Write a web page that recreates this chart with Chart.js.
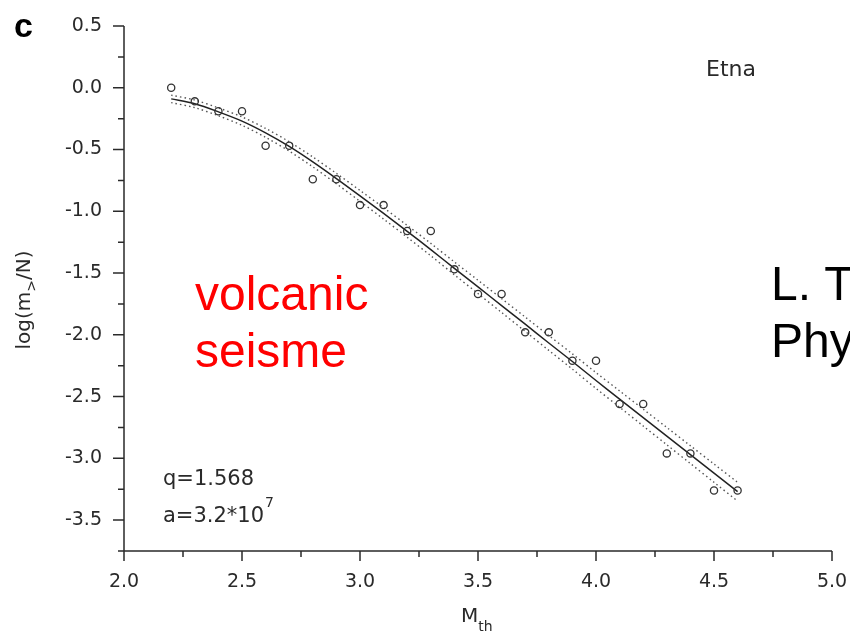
<!DOCTYPE html>
<html>
<head>
<meta charset="utf-8">
<title>Etna</title>
<script src="https://cdn.jsdelivr.net/npm/chart.js@4.4.1/dist/chart.umd.min.js"></script>
<style>
  html, body { margin: 0; padding: 0; background: #fff; }
  #wrap { width: 850px; height: 642px; }
</style>
</head>
<body>
<div id="wrap"><canvas id="chart" width="850" height="642"></canvas></div>
<script>
// threshold magnitudes
const mth = [2.2, 2.3, 2.4, 2.5, 2.6, 2.7, 2.8, 2.9, 3.0, 3.1, 3.2, 3.3, 3.4,
             3.5, 3.6, 3.7, 3.8, 3.9, 4.0, 4.1, 4.2, 4.3, 4.4, 4.5, 4.6];
// observed log(m>/N)
const logObs = [0.0, -0.11, -0.19, -0.19, -0.47, -0.47, -0.74, -0.74, -0.95, -0.95,
                -1.16, -1.16, -1.47, -1.67, -1.67, -1.98, -1.98, -2.21, -2.21,
                -2.56, -2.56, -2.96, -2.96, -3.26, -3.26];
// fitted curve and its dotted band
const logFit = [-0.09, -0.13, -0.195, -0.27, -0.365, -0.475, -0.60, -0.735, -0.875,
                -1.017, -1.162, -1.31, -1.462, -1.612, -1.763, -1.914, -2.066,
                -2.216, -2.37, -2.52, -2.67, -2.82, -2.97, -3.12, -3.27];
const fitUpper = [-0.060, -0.099, -0.163, -0.236, -0.329, -0.437, -0.560, -0.693,
                  -0.831, -0.971, -1.114, -1.260, -1.410, -1.558, -1.707, -1.856,
                  -2.006, -2.154, -2.306, -2.454, -2.602, -2.750, -2.898, -3.046, -3.194];
const fitLower = [-0.120, -0.161, -0.227, -0.304, -0.401, -0.513, -0.640, -0.777,
                  -0.919, -1.063, -1.210, -1.360, -1.514, -1.666, -1.819, -1.972,
                  -2.126, -2.278, -2.434, -2.586, -2.738, -2.890, -3.042, -3.194, -3.346];

const xRange = [2.0, 5.0];
const yRange = [-3.75, 0.5];
const xMajor = [2.0, 2.5, 3.0, 3.5, 4.0, 4.5, 5.0];
const yMajor = [-3.5, -3.0, -2.5, -2.0, -1.5, -1.0, -0.5, 0.0, 0.5];

const fitParams = ['q=1.568', 'a=3.2*10', '7'];

const pts = ys => mth.map((x, i) => ({ x: x, y: ys[i] }));

const tickFont = { family: 'DejaVu Sans', size: 19 };
const ink = '#2a2a2a';

// axes with major + minor ticks, drawn through the chart scales
const axesPlugin = {
  id: 'axes',
  afterDraw(chart) {
    const ctx = chart.ctx, a = chart.chartArea;
    const xs = chart.scales.x, ys = chart.scales.y;
    ctx.save();
    ctx.strokeStyle = ink;
    ctx.lineWidth = 1.5;
    ctx.beginPath();
    ctx.moveTo(a.left, a.top);
    ctx.lineTo(a.left, a.bottom);
    ctx.lineTo(a.right, a.bottom);
    for (let v = xRange[0]; v <= xRange[1] + 1e-9; v += 0.25) {
      const px = xs.getPixelForValue(v);
      const major = xMajor.some(m => Math.abs(m - v) < 1e-6);
      ctx.moveTo(px, a.bottom);
      ctx.lineTo(px, a.bottom + (major ? 10 : 6));
    }
    for (let v = yRange[0]; v <= yRange[1] + 1e-9; v += 0.25) {
      const py = ys.getPixelForValue(v);
      const major = yMajor.some(m => Math.abs(m - v) < 1e-6);
      ctx.moveTo(a.left, py);
      ctx.lineTo(a.left - (major ? 11 : 6), py);
    }
    ctx.stroke();
    ctx.restore();
  }
};

// titles and annotations
const textPlugin = {
  id: 'texts',
  afterDraw(chart) {
    const ctx = chart.ctx;
    ctx.save();
    ctx.textBaseline = 'alphabetic';

    // panel letter
    ctx.font = 'bold 34px "Liberation Sans"';
    ctx.fillStyle = '#000';
    ctx.fillText('c', 14, 37);

    ctx.fillStyle = ink;
    ctx.font = '22px "DejaVu Sans"';
    ctx.fillText('Etna', 706, 76);

    ctx.font = '21px "DejaVu Sans"';
    ctx.fillText(fitParams[0], 163, 485);
    ctx.fillText(fitParams[1], 163, 522);
    const w = ctx.measureText(fitParams[1]).width;
    ctx.font = '14px "DejaVu Sans"';
    ctx.fillText(fitParams[2], 163 + w + 1, 507);

    // x axis title M_th
    ctx.font = '20px "DejaVu Sans"';
    ctx.fillText('M', 461, 622);
    const mw = ctx.measureText('M').width;
    ctx.font = '14px "DejaVu Sans"';
    ctx.fillText('th', 461 + mw, 631);

    // y axis title log(m_>/N)
    ctx.translate(30, 300);
    ctx.rotate(-Math.PI / 2);
    ctx.font = '20px "DejaVu Sans"';
    const p1 = 'log(m', p3 = '/N)';
    const w1 = ctx.measureText(p1).width, w3 = ctx.measureText(p3).width;
    ctx.font = '14px "DejaVu Sans"';
    const w2 = ctx.measureText('>').width;
    const x0 = -(w1 + w2 + w3) / 2;
    ctx.font = '20px "DejaVu Sans"';
    ctx.fillText(p1, x0, 0);
    ctx.font = '14px "DejaVu Sans"';
    ctx.fillText('>', x0 + w1, 6);
    ctx.font = '20px "DejaVu Sans"';
    ctx.fillText(p3, x0 + w1 + w2, 0);
    ctx.setTransform(1, 0, 0, 1, 0, 0);

    // slide overlay text
    ctx.font = '48px "Liberation Sans"';
    ctx.fillStyle = '#ff0000';
    ctx.fillText('volcanic', 195, 310);
    ctx.fillText('seisme', 195, 367);
    ctx.fillStyle = '#000';
    ctx.fillText('L. T', 771, 300);
    ctx.fillText('Phy', 771, 357);
    ctx.restore();
  }
};

new Chart(document.getElementById('chart').getContext('2d'), {
  type: 'scatter',
  data: {
    datasets: [
      {
        label: 'fit',
        data: pts(logFit),
        showLine: true,
        borderColor: '#222',
        borderWidth: 1.5,
        pointRadius: 0,
        tension: 0.3,
        order: 2
      },
      {
        label: 'upper',
        data: pts(fitUpper),
        showLine: true,
        borderColor: '#555',
        borderWidth: 1.4,
        borderDash: [1.5, 3],
        pointRadius: 0,
        tension: 0.3,
        order: 3
      },
      {
        label: 'lower',
        data: pts(fitLower),
        showLine: true,
        borderColor: '#555',
        borderWidth: 1.4,
        borderDash: [1.5, 3],
        pointRadius: 0,
        tension: 0.3,
        order: 3
      },
      {
        label: 'observed',
        data: pts(logObs),
        showLine: false,
        pointStyle: 'circle',
        pointRadius: 3.6,
        pointBorderWidth: 1.3,
        pointBorderColor: '#333',
        pointBackgroundColor: 'rgba(255,255,255,0)',
        order: 1
      }
    ]
  },
  options: {
    responsive: false,
    devicePixelRatio: 1,
    animation: false,
    layout: { padding: { left: 0, right: 18, top: 26, bottom: 0 } },
    plugins: {
      legend: { display: false },
      tooltip: { enabled: false }
    },
    scales: {
      x: {
        type: 'linear',
        min: xRange[0],
        max: xRange[1],
        afterBuildTicks: s => { s.ticks = xMajor.map(v => ({ value: v })); },
        afterFit: s => { s.height = 91; },
        grid: { display: false, drawTicks: true, tickLength: 20 },
        border: { display: false },
        ticks: {
          font: tickFont,
          color: ink,
          padding: 0,
          maxRotation: 0,
          callback: v => v.toFixed(1)
        }
      },
      y: {
        type: 'linear',
        min: yRange[0],
        max: yRange[1],
        afterBuildTicks: s => { s.ticks = yMajor.map(v => ({ value: v })); },
        afterFit: s => { s.width = 124; },
        grid: { display: false, drawTicks: true, tickLength: 22 },
        border: { display: false },
        ticks: {
          font: tickFont,
          color: ink,
          padding: 0,
          callback: v => v.toFixed(1)
        }
      }
    }
  },
  plugins: [axesPlugin, textPlugin]
});
</script>
</body>
</html>
